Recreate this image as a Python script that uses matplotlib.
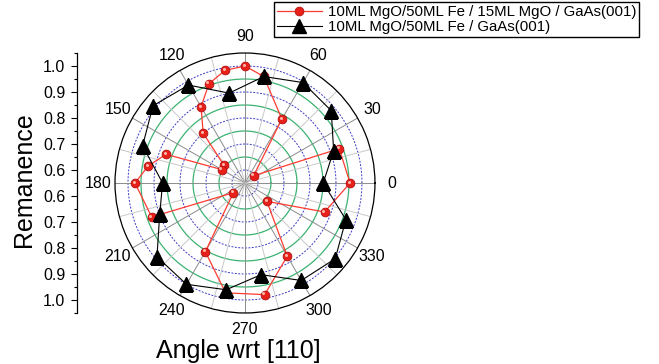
import numpy as np
import matplotlib.pyplot as plt
from matplotlib.transforms import offset_copy

plt.rcParams['font.family'] = ['Liberation Sans', 'DejaVu Sans']

# red series: 10ML MgO/50ML Fe / 15ML MgO / GaAs(001)
ang_red = [0, 20, 40, 60, 80, 90, 100, 110, 120, 130, 140, 150, 160, 170,
           180, 200, 220, 240, 260, 280, 300, 320, 340]
rem_red = [0.954, 0.936, 0.593, 0.834, 0.966, 1.0, 0.99, 0.956, 0.888, 0.80,
           0.655, 0.653, 0.873, 0.928, 0.973, 0.932, 0.608, 0.855, 0.979,
           0.986, 0.875, 0.66, 0.876]
# black series: 10ML MgO/50ML Fe / GaAs(001)
ang_blk = [0, 20, 40, 60, 80, 100, 120, 140, 160, 180, 200, 220, 240, 260,
           280, 300, 320, 340]
rem_blk = [0.851, 0.913, 0.983, 0.996, 0.966, 0.901, 0.985, 1.012, 0.969,
           0.867, 0.899, 0.992, 1.0, 0.967, 0.908, 0.983, 1.003, 0.963]

lab_red = '10ML MgO/50ML Fe / 15ML MgO / GaAs(001)'
lab_blk = '10ML MgO/50ML Fe / GaAs(001)'

rmin, rmax = 0.55, 1.05
rad_ticks = [0.6, 0.7, 0.8, 0.9, 1.0]

fig = plt.figure(figsize=(6.59, 3.64), dpi=100)
ax = fig.add_axes([0.1745, 0.1401, 0.3945, 0.7143], projection='polar')
ax.set_rlim(rmin, rmax)
ax.grid(False)
ax.set_yticks([])

# grid circles
t = np.linspace(0, 2 * np.pi, 400)
for r in rad_ticks:
    ax.plot(t, np.full_like(t, r), color='#3a3ac8', lw=0.7, ls=(0, (2, 1.5)), zorder=1)
for r in [0.65, 0.75, 0.85, 0.95]:
    ax.plot(t, np.full_like(t, r), color='#3cb371', lw=0.9, zorder=1)
# spokes
for a in range(0, 360, 15):
    c = '#8c8c8c' if a % 30 == 0 else '#c8c8c8'
    ax.plot([np.radians(a)] * 2, [rmin, rmax], color=c, lw=0.7, zorder=1)

# closed curves
th_r = np.radians(ang_red + [ang_red[0]])
th_b = np.radians(ang_blk + [ang_blk[0]])
ax.plot(th_r, rem_red + [rem_red[0]], color='#ff3b30', lw=0.9,
        marker='o', ms=6.3, mfc='#e8201a', mec='#b01010', mew=0.6, zorder=3,
        markevery=range(len(ang_red)), label=lab_red)
# little highlight on the spheres
hl = offset_copy(ax.transData, fig=fig, x=-1.0, y=1.0, units='points')
ax.plot(np.radians(ang_red), rem_red, ls='none', marker='o', ms=2.2,
        mfc='#ffb4a8', mec='none', transform=hl, zorder=3.5)
ax.plot(th_b, rem_blk + [rem_blk[0]], color='black', lw=0.8,
        marker='^', ms=9.5, mfc='black', mec='black', zorder=4,
        markevery=range(len(ang_blk)), label=lab_blk)

ax.set_xticks(np.radians(np.arange(0, 360, 30)))
ax.set_xticklabels([str(a) for a in range(0, 360, 30)], fontsize=11.5)
ax.tick_params(axis='x', pad=2, direction='inout', length=6, width=0.8)
ax.spines['polar'].set_linewidth(0.9)

# left radial scale
lax = fig.add_axes([76.5 / 659, 0.1401, 0.001, 0.7143])
lax.set_ylim(-(rmax - rmin), rmax - rmin)
for s in ['top', 'right', 'bottom']:
    lax.spines[s].set_visible(False)
lax.spines['left'].set_linewidth(0.9)
lax.set_xticks([])
pos = [v - rmin for v in rad_ticks] + [-(v - rmin) for v in rad_ticks]
lax.set_yticks(pos)
lax.set_yticklabels(['%.1f' % v for v in rad_ticks] * 2, fontsize=11.5)
minor = [0.0] + [v - rmin for v in [0.65, 0.75, 0.85, 0.95, 1.05]] + \
        [-(v - rmin) for v in [0.65, 0.75, 0.85, 0.95, 1.05]]
lax.set_yticks(minor, minor=True)
lax.tick_params(axis='y', which='major', length=4, width=0.8, pad=4)
lax.tick_params(axis='y', which='minor', length=2.5, width=0.8)

fig.text(24 / 659, 1 - 180 / 364, 'Remanence', rotation=90, fontsize=18,
         ha='center', va='center')
fig.text(238 / 659, 1 - 351 / 364, 'Angle wrt [110]', fontsize=18,
         ha='center', va='center')

fig.legend(loc='upper right', bbox_to_anchor=(639 / 659, 1 - 2 / 364),
           fontsize=10.8, frameon=True, fancybox=False, edgecolor='black',
           framealpha=1, borderpad=0.2, labelspacing=0.05, handlelength=3.0,
           handletextpad=0.4, borderaxespad=0)

fig.savefig('out.png', dpi=100)
